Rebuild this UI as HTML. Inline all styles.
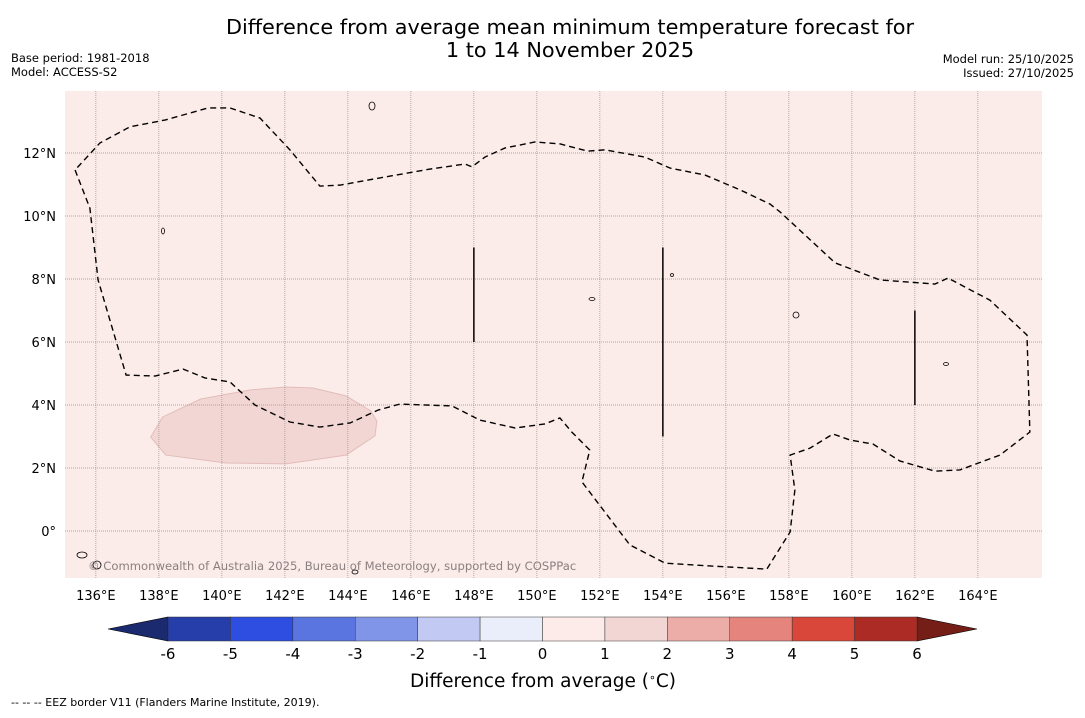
<!DOCTYPE html>
<html><head><meta charset="utf-8"><style>
body{margin:0;background:#fff;width:1085px;height:713px;overflow:hidden;font-family:"Liberation Sans","DejaVu Sans",sans-serif}
</style></head><body>
<svg id="fig" width="1085" height="713" xmlns="http://www.w3.org/2000/svg" font-family="DejaVu Sans, Liberation Sans, sans-serif">
<text x="570" y="34" font-size="20.8" text-anchor="middle">Difference from average mean minimum temperature forecast for</text>
<text x="570" y="57" font-size="20.8" text-anchor="middle">1 to 14 November 2025</text>
<text x="11" y="62" font-size="11.5">Base period: 1981-2018</text>
<text x="11" y="76" font-size="11.5">Model: ACCESS-S2</text>
<text x="1074" y="63" font-size="11.5" text-anchor="end">Model run: 25/10/2025</text>
<text x="1074" y="77" font-size="11.5" text-anchor="end">Issued: 27/10/2025</text>
<g id="map"></g>
<g id="cbar"></g>
<text x="543" y="687" font-size="18.5" text-anchor="middle">Difference from average (<tspan baseline-shift="super" font-size="11">∘</tspan>C)</text>
<text x="11" y="706" font-size="11">--  --  -- EEZ border V11 (Flanders Marine Institute, 2019).</text>
</svg>
<script>
const lonTicks=[136,138,140,142,144,146,148,150,152,154,156,158,160,162,164];
const latTicks=[0,2,4,6,8,10,12];
const eezLon=[135.34,135.81,136.07,136.96,137.88,138.77,139.46,140.26,141.05,142.16,143.11,144.07,144.96,145.65,147.31,148.19,149.31,150.26,150.73,151.11,151.68,151.43,152.16,152.95,154.07,155.5,157.3,158.04,158.19,158.04,158.67,159.4,159.94,160.67,161.53,162.64,163.43,164.7,165.65,165.56,164.38,163.05,162.64,160.89,159.47,157.72,157.4,156.45,155.34,154.23,153.43,152.16,151.62,150.73,149.94,148.99,148.35,147.94,147.72,146.61,145.02,143.75,143.11,142.16,141.21,140.26,139.56,138.21,137.08,136.13,135.34];
const eezLat=[11.46,10.25,7.97,4.95,4.92,5.14,4.86,4.73,4.0,3.46,3.3,3.43,3.84,4.03,3.97,3.52,3.27,3.4,3.59,3.14,2.57,1.56,0.6,-0.44,-1.02,-1.11,-1.21,-0.03,1.3,2.41,2.63,3.08,2.89,2.76,2.22,1.9,1.94,2.41,3.14,6.22,7.33,8.03,7.84,7.97,8.51,10.13,10.38,10.83,11.3,11.52,11.87,12.1,12.06,12.29,12.35,12.16,11.87,11.56,11.65,11.49,11.21,10.98,10.95,12.1,13.11,13.43,13.43,13.05,12.83,12.32,11.46];
const patchLon=[137.74,138.12,139.33,140.92,142.03,142.89,143.94,144.73,144.92,144.86,143.94,142.03,140.13,138.22];
const patchLat=[2.98,3.62,4.19,4.48,4.57,4.54,4.29,3.81,3.49,3.02,2.41,2.13,2.16,2.41];
const segLon=[148,154,162];
const segLat0=[6,3,4];
const segLat1=[9,9,7];
const binEdges=[-6,-5,-4,-3,-2,-1,0,1,2,3,4,5,6];
const binColors=['#253ea9','#2d4ee0','#5a74e0','#8195e8','#c2c9f2','#eaedfa','#fcebe9','#f2d6d4','#ecaca7','#e5847c','#d9473b','#ac2c25'];
const NS='http://www.w3.org/2000/svg';
const X0=65,X1=1042,Y0=91,Y1=578;
const x=l=>65+(l-135.02)*31.5;
const y=t=>531-t*31.5;
function mk(tag,attrs,parent){const e=document.createElementNS(NS,tag);for(const k in attrs)e.setAttribute(k,attrs[k]);parent.appendChild(e);return e;}
const map=document.getElementById('map');
let bg=mk('rect',{x:X0,y:Y0,width:X1-X0,height:Y1-Y0,fill:'#fbebe9'},map);


let pts=patchLon.map((l,i)=>x(l)+','+y(patchLat[i])).join(' ');
let patch=mk('polygon',{points:pts,fill:'#f2d6d4',stroke:'#e2bdb9','stroke-width':1},map);


lonTicks.forEach(l=>{
 let g=mk('line',{x1:x(l),x2:x(l),y1:Y0,y2:Y1,stroke:'#9a8f8f','stroke-width':0.7,'stroke-dasharray':'1 1'},map);
 
 
 let t=mk('text',{x:x(l),y:600,'font-size':13,'text-anchor':'middle'},map);t.textContent=l+'°E';
 
 
});
latTicks.forEach(t0=>{
 let g=mk('line',{x1:X0,x2:X1,y1:y(t0),y2:y(t0),stroke:'#9a8f8f','stroke-width':0.7,'stroke-dasharray':'1 1'},map);
 
 
 let t=mk('text',{x:56,y:y(t0)+5,'font-size':13,'text-anchor':'end'},map);t.textContent=t0===0?'0°':t0+'°N';
 
 
});
let ep=eezLon.map((l,i)=>x(l)+','+y(eezLat[i])).join(' ');
let eez=mk('polyline',{points:ep,fill:'none',stroke:'#000','stroke-width':1.4,'stroke-dasharray':'6 4'},map);


segLon.forEach((l,i)=>{
 let s=mk('line',{x1:x(l),x2:x(l),y1:y(segLat0[i]),y2:y(segLat1[i]),stroke:'#000','stroke-width':1.5},map);
 
 
});
[[372,106,3,4],[163,231,1.5,3],[592,299,3,1.5],[796,315,3,3],[946,364,2.5,1.5],[672,275,1.5,1.5],[82,555,5,3],[97,565,4,4],[355,572,3,2]].forEach(p=>{
 let c=mk('ellipse',{cx:p[0],cy:p[1],rx:p[2],ry:p[3],fill:'none',stroke:'#000','stroke-width':0.8},map);
 
 
});
let cr=mk('text',{x:88,y:570,'font-size':11.6,fill:'#8a8080'},map);cr.textContent='© Commonwealth of Australia 2025, Bureau of Meteorology, supported by COSPPac';


const cb=document.getElementById('cbar');
const CB0=168,CB1=917,CT=617,CBt=641;
const cx=v=>CB0+(v+6)/12*(CB1-CB0);
let lt=mk('polygon',{points:`108,629 ${CB0},${CT} ${CB0},${CBt}`,fill:'#1b2a6e',stroke:'#000','stroke-width':0.6},cb);


let rt=mk('polygon',{points:`977,629 ${CB1},${CT} ${CB1},${CBt}`,fill:'#751d17',stroke:'#000','stroke-width':0.6},cb);


binColors.forEach((c,i)=>{
 let r=mk('rect',{x:cx(binEdges[i]),y:CT,width:cx(binEdges[i+1])-cx(binEdges[i]),height:CBt-CT,fill:c,stroke:'#333','stroke-width':0.5},cb);
 
 
});
binEdges.forEach(v=>{
 let t=mk('text',{x:cx(v),y:659,'font-size':15,'text-anchor':'middle'},cb);t.textContent=v;
 
 
});
</script>
</body></html>
